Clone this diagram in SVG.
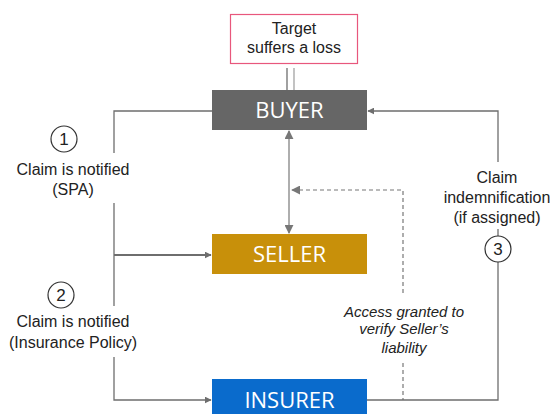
<svg xmlns="http://www.w3.org/2000/svg" width="553" height="414" viewBox="0 0 553 414">
<defs>
<style>
.lbl{font-family:"Liberation Sans",Arial,sans-serif;font-size:16px;fill:#222;text-anchor:middle}
.it{font-style:italic;font-size:15px}
.num{font-size:17px}
.box{font-family:"Open Sans","Noto Sans",sans-serif;font-size:22px;fill:#fff;text-anchor:middle}
.ln{fill:none;stroke:#6e6e6e;stroke-width:1.3}
.lt{fill:none;stroke:#9a9a9a;stroke-width:1.6}
.ds{fill:none;stroke:#777;stroke-width:1.2;stroke-dasharray:4 3}
.circ{fill:#fff;stroke:#333;stroke-width:1.2}
</style>
<marker id="ah" viewBox="0 0 10 10" refX="9" refY="5" markerWidth="7" markerHeight="7" markerUnits="userSpaceOnUse" orient="auto-start-reverse">
<path d="M0,0 L10,5 L0,10 z" fill="#6e6e6e"/>
</marker>
<marker id="ah2" viewBox="0 0 10 10" refX="9" refY="5" markerWidth="9" markerHeight="9" markerUnits="userSpaceOnUse" orient="auto-start-reverse">
<path d="M0,0 L10,5 L0,10 z" fill="#777"/>
</marker>
</defs>
<rect width="553" height="414" fill="#fff"/>
<g id="connectors">
<line class="ln" x1="287" y1="68" x2="287" y2="90"/>
<line class="lt" x1="294" y1="68" x2="294" y2="90" style="stroke-width:1.2"/>
<polyline class="ln" points="212,111 114,111 114,153"/>
<polyline class="ln" points="114,203 114,306"/>
<polyline class="ln" points="114,357 114,400 211,400" marker-end="url(#ah)"/>
<line class="ln" x1="114" y1="255" x2="211" y2="255" style="stroke-width:2" marker-end="url(#ah)"/>
<line class="lt" x1="289" y1="131" x2="289" y2="233" marker-start="url(#ah2)" marker-end="url(#ah2)"/>
<polyline class="ds" points="403,293 403,190 292,190" marker-end="url(#ah2)"/>
<line class="ds" x1="403" y1="363" x2="403" y2="400"/>
<polyline class="ln" points="367,400 498,400 498,262"/>
<line class="ln" x1="498" y1="229" x2="498" y2="236"/>
<polyline class="ln" points="498,162 498,111 368,111" marker-end="url(#ah)"/>
</g>
<g id="target">
<rect x="230.5" y="14.5" width="127" height="49" fill="#fff" stroke="#e8577c" stroke-width="1.2"/>
<text class="lbl" x="294" y="34">Target</text>
<text class="lbl" x="294" y="53">suffers a loss</text>
</g>
<g id="buyer">
<rect x="212" y="90" width="155" height="40" fill="#666666"/>
<text class="box" x="289.5" y="118">BUYER</text>
</g>
<g id="seller">
<rect x="212" y="234" width="155" height="40" fill="#c8900a"/>
<text class="box" x="289.5" y="262">SELLER</text>
</g>
<g id="insurer">
<rect x="212" y="379" width="155" height="40" fill="#0a6bcc"/>
<text class="box" x="289.5" y="408">INSURER</text>
</g>
<g id="step1">
<circle class="circ" cx="64" cy="139" r="13"/>
<text class="lbl num" x="64" y="145">1</text>
<text class="lbl" x="73" y="175">Claim is notified</text>
<text class="lbl" x="73" y="195">(SPA)</text>
</g>
<g id="step2">
<circle class="circ" cx="61" cy="295" r="13"/>
<text class="lbl num" x="61" y="301">2</text>
<text class="lbl" x="73" y="327">Claim is notified</text>
<text class="lbl" x="73" y="348">(Insurance Policy)</text>
</g>
<g id="step3">
<circle class="circ" cx="498" cy="249" r="13"/>
<text class="lbl num" x="498" y="255">3</text>
<text class="lbl" x="497" y="183">Claim</text>
<text class="lbl" x="497" y="203">indemnification</text>
<text class="lbl" x="497" y="223">(if assigned)</text>
</g>
<g id="access">
<text class="lbl it" x="404" y="317">Access granted to</text>
<text class="lbl it" x="404" y="334">verify Seller’s</text>
<text class="lbl it" x="404" y="353">liability</text>
</g>
</svg>
